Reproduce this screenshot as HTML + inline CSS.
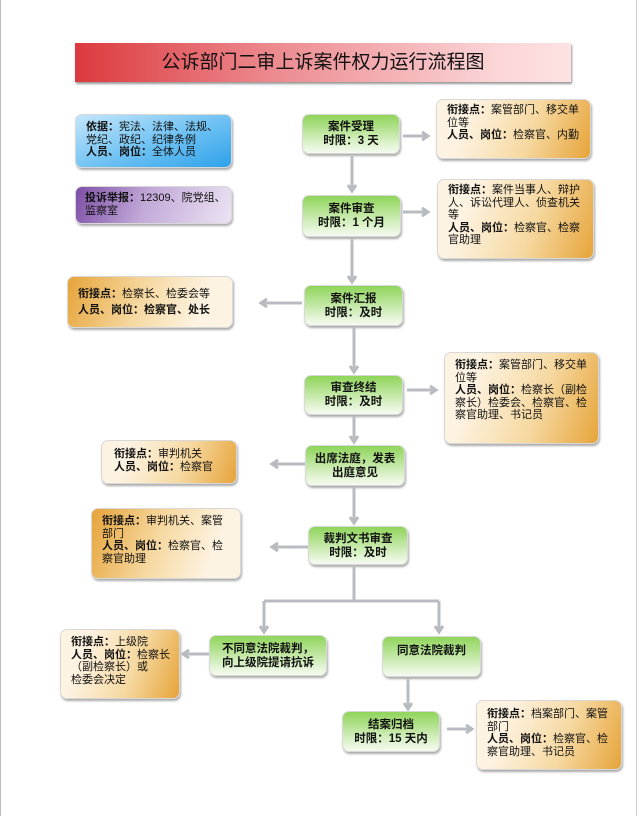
<!DOCTYPE html>
<html><head><meta charset="utf-8"><style>
body{margin:0;width:640px;height:816px;background:#fff;position:relative;overflow:hidden;font-family:"Liberation Sans","Noto Sans CJK SC",sans-serif;}
.b{position:absolute;box-sizing:border-box;border-radius:7px;box-shadow:1px 2px 2px #aaa;border:1px solid #d8d8d8;font-size:11px;line-height:12.5px;color:#111;}
.g{background:linear-gradient(#8fd45a,#e8f6dc 85%,#f4faef);text-align:center;font-weight:bold;font-size:11.5px;display:flex;align-items:center;justify-content:center;line-height:14px;}
.oR{background:linear-gradient(110deg,#fdf3e2 20%,#f6d9a2 60%,#e6a43a);padding:4px 8px 0 10px;}
.oL{background:linear-gradient(110deg,#e6a43a,#f6d9a2 45%,#fdf3e2 80%);padding:4px 8px 0 10px;}
b{font-weight:bold}
</style></head><body>
<div style="position:absolute;left:636px;top:0;width:1px;height:816px;background:#ccc"></div>
<div style="position:absolute;left:0;top:0;width:1px;height:816px;background:#bbb"></div>
<div style="position:absolute;left:75px;top:43px;width:496px;height:39px;background:linear-gradient(90deg,#dc3a3e,#ec8a8f 40%,#fbd5d7 85%,#fde2e2);box-shadow:1px 2px 2px #999;text-align:center;font-size:19px;line-height:39px;color:#111;">公诉部门二审上诉案件权力运行流程图</div>

<div class="b" style="left:75px;top:114px;width:157px;height:54px;background:linear-gradient(160deg,#c4e6fb,#6cc0f2 55%,#2ea2ea);padding:6px 6px 0 10px;font-size:11px"><b>依据：</b>宪法、法律、法规、党纪、政纪、纪律条例<br><b>人员、岗位：</b>全体人员</div>
<div class="b" style="left:75px;top:186px;width:157px;height:38px;background:linear-gradient(110deg,#7d4fa6,#c2a9d8 45%,#ebe3f3);padding:5px 2px 0 9px"><b>投诉举报：</b>12309、院党组、<br>监察室</div>

<div class="b g" style="left:302px;top:114px;width:98px;height:40px">案件受理<br>时限：3 天</div>
<div class="b oR" style="left:436px;top:99px;width:155px;height:60px"><b>衔接点：</b>案管部门、移交单位等<br><b>人员、岗位：</b>检察官、内勤</div>
<div class="b g" style="left:302px;top:195px;width:99px;height:42px">案件审查<br>时限：1 个月</div>
<div class="b oR" style="left:437px;top:179px;width:157px;height:80px"><b>衔接点：</b>案件当事人、辩护人、诉讼代理人、侦查机关等<br><b>人员、岗位：</b>检察官、检察官助理</div>
<div class="b oL" style="left:67px;top:276px;width:166px;height:52px;padding-top:9px;line-height:16px"><b>衔接点：</b>检察长、检委会等<br><b>人员、岗位：检察官、处长</b></div>
<div class="b g" style="left:304px;top:285px;width:99px;height:41px">案件汇报<br>时限：及时</div>
<div class="b g" style="left:304px;top:375px;width:99px;height:40px">审查终结<br>时限：及时</div>
<div class="b oR" style="left:444px;top:352px;width:155px;height:92px;padding-top:6px"><b>衔接点：</b>案管部门、移交单位等<br><b>人员、岗位：</b>检察长（副检察长）检委会、检察官、检察官助理、书记员</div>
<div class="b g" style="left:305px;top:445px;width:100px;height:41px">出席法庭，发表<br>出庭意见</div>
<div class="b oR" style="left:101px;top:440px;width:136px;height:44px;padding-top:7px;padding-left:12px"><b>衔接点：</b>审判机关<br><b>人员、岗位：</b>检察官</div>
<div class="b oL" style="left:91px;top:508px;width:150px;height:71px;padding-top:6px"><b>衔接点：</b>审判机关、案管部门<br><b>人员、岗位：</b>检察官、检察官助理</div>
<div class="b g" style="left:308px;top:526px;width:100px;height:39px">裁判文书审查<br>时限：及时</div>
<div class="b g" style="left:209px;top:635px;width:118px;height:41px">不同意法院裁判，<br>向上级院提请抗诉</div>
<div class="b g" style="left:382px;top:636px;width:99px;height:41px;align-items:flex-start;padding-top:7px">同意法院裁判</div>
<div class="b oR" style="left:60px;top:629px;width:120px;height:70px;padding:6px 4px 0 10px"><b>衔接点：</b>上级院<br><b>人员、岗位：</b>检察长（副检察长）或<br>检委会决定</div>
<div class="b g" style="left:342px;top:711px;width:98px;height:41px">结案归档<br>时限：15 天内</div>
<div class="b oR" style="left:476px;top:700px;width:146px;height:70px;padding-top:7px"><b>衔接点：</b>档案部门、案管部门<br><b>人员、岗位：</b>检察官、检察官助理、书记员</div>

<svg width="640" height="816" style="position:absolute;left:0;top:0" fill="none" stroke="#b8bcc0" stroke-width="3">
<g>
<path d="M403 136H427M422 132l6 4-6 4"/>
<path d="M403 212H427M422 208l6 4-6 4"/>
<path d="M302 303H262M267 299l-6 4 6 4"/>
<path d="M407 390H435M430 386l6 4-6 4"/>
<path d="M305 464H273M278 460l-6 4 6 4"/>
<path d="M308 547H273M278 543l-6 4 6 4"/>
<path d="M209 654H184M189 650l-6 4 6 4"/>
<path d="M447 729H471M466 725l6 4-6 4"/>
<path d="M352 156V190M348 185l4 6 4-6"/>
<path d="M352 238V281M348 276l4 6 4-6"/>
<path d="M354 327V371M350 366l4 6 4-6"/>
<path d="M354 416V441M350 436l4 6 4-6"/>
<path d="M354 487V522M350 517l4 6 4-6"/>
<path d="M354 565V601M264 601H439M264 601V631M439 601V631M260 626l4 6 4-6M435 626l4 6 4-6"/>
<path d="M408 678V708M404 703l4 6 4-6"/>
</g></svg>
</body></html>
